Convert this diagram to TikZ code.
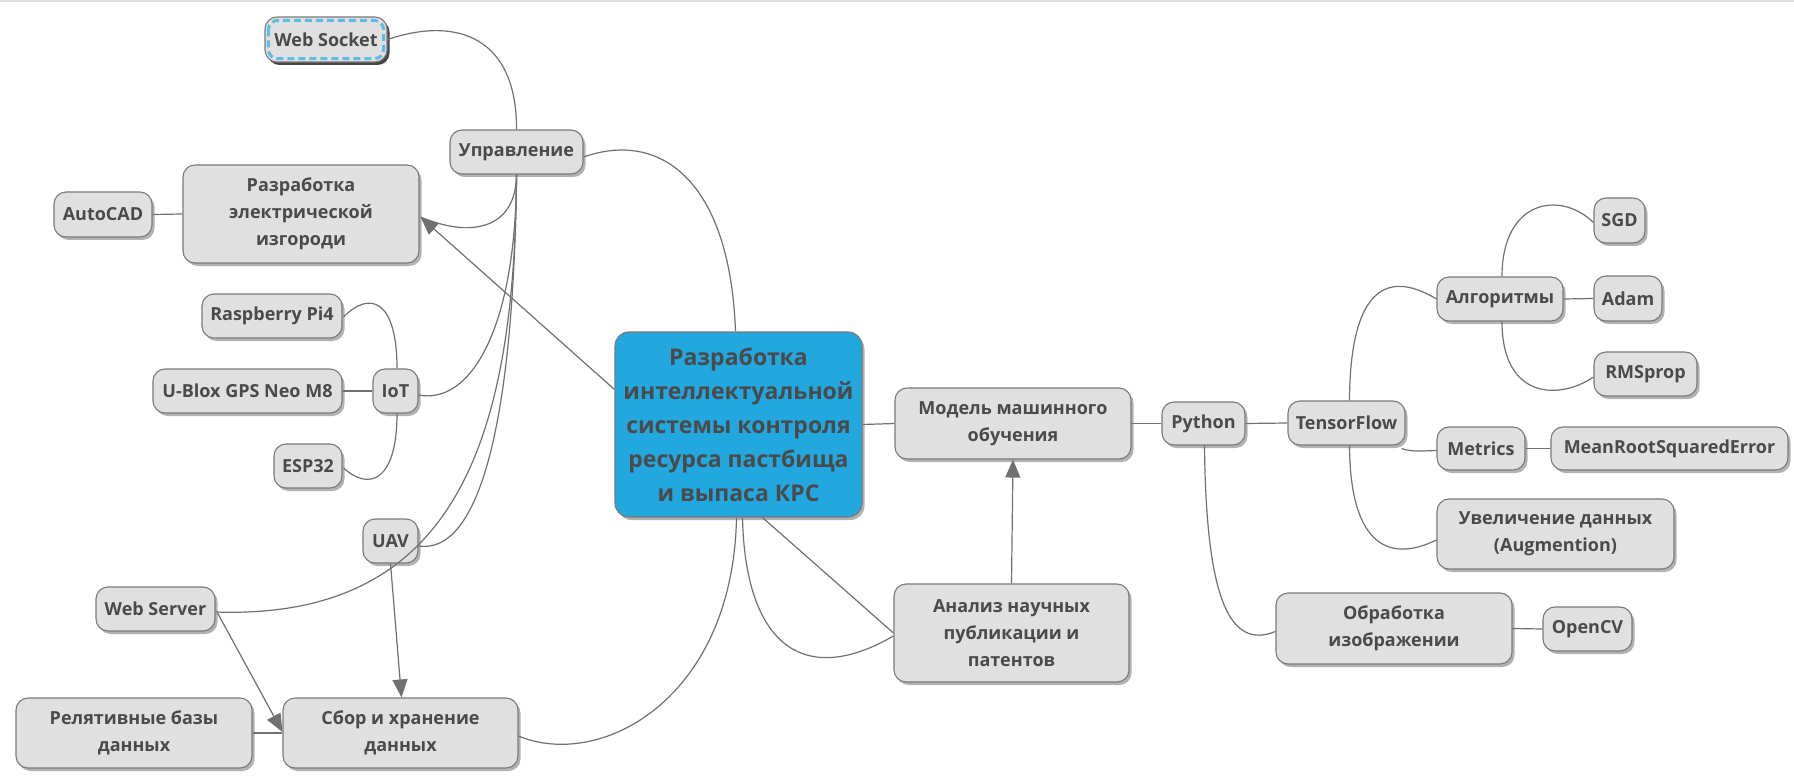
\documentclass[tikz,border=0pt]{standalone}
\usepackage{fontspec}
\setmainfont{Open Sans}
\usetikzlibrary{shadows,calc,arrows.meta}
\definecolor{boxc}{HTML}{E0E0E0}
\definecolor{bordc}{HTML}{7A7A7A}
\definecolor{txtc}{HTML}{4A4A4A}
\definecolor{linec}{HTML}{707070}
\definecolor{cenc}{HTML}{22A7DF}
\definecolor{wsblue}{HTML}{5CBDE6}
\tikzset{
  box/.style={draw=bordc, fill=boxc, rounded corners=12pt, line width=1.1pt, text=txtc,
    font=\bfseries\fontsize{18}{27}\selectfont, align=center, inner sep=0pt,
    drop shadow={shadow xshift=2.5pt, shadow yshift=-3pt, fill=black, opacity=0.3}},
  cenbox/.style={box, fill=cenc, font=\bfseries\fontsize{23}{34}\selectfont, rounded corners=14pt},
  conn/.style={draw=linec, line width=1.2pt},
  arr/.style={conn, -{Triangle[length=18pt,width=15pt]}},
  wsdash/.style={draw=wsblue, line width=3pt, dash pattern=on 7pt off 4pt, rounded corners=9pt},
}
\begin{document}
\begin{tikzpicture}[x=1pt,y=-1pt]
\useasboundingbox (0,0) rectangle (1794,778);
\draw[gray!25, line width=2pt] (0,1) -- (1794,1);
% nodes
\node[box, minimum width=122pt, minimum height=45pt, drop shadow={shadow xshift=2.5pt, shadow yshift=-3pt, fill=black, opacity=0.6}] (ws) at (326,39.5) {Web Socket};
\draw[wsdash] ($(ws.north west)+(4,4)$) rectangle ($(ws.south east)+(-4,-4)$);
\node[box, minimum width=133pt, minimum height=44pt] (upr) at (516.5,152) {Управление};
\node[box, minimum width=236pt, minimum height=98pt] (elk) at (301,214) {Разработка\\электрической\\изгороди};
\node[box, minimum width=98pt, minimum height=45pt] (acad) at (103,214.5) {AutoCAD};
\node[box, minimum width=140pt, minimum height=44pt] (rpi) at (272,316) {Raspberry Pi4};
\node[box, minimum width=189pt, minimum height=44pt] (ublox) at (247.5,391) {U-Blox GPS Neo M8};
\node[box, minimum width=45pt, minimum height=44pt] (iot) at (395.5,391) {IoT};
\node[box, minimum width=68pt, minimum height=44pt] (esp) at (308,466) {ESP32};
\node[box, minimum width=55pt, minimum height=44pt] (uav) at (390.5,541) {UAV};
\node[box, minimum width=119pt, minimum height=44pt] (wsrv) at (155.5,609) {Web Server};
\node[box, minimum width=236pt, minimum height=70pt] (rdb) at (134,733) {Релятивные базы\\данных};
\node[box, minimum width=235pt, minimum height=70pt] (sbor) at (400.5,733) {Сбор и хранение\\данных};
\node[cenbox, minimum width=247pt, minimum height=185pt] (cen) at (738.5,424.5) {Разработка\\интеллектуальной\\системы контроля\\ресурса пастбища\\и выпаса КРС};
\node[box, minimum width=236pt, minimum height=71pt] (mml) at (1013,423.5) {Модель машинного\\обучения};
\node[box, minimum width=235pt, minimum height=98pt] (anl) at (1011.5,633) {Анализ научных\\публикации и\\патентов};
\node[box, minimum width=83pt, minimum height=43pt] (py) at (1203.5,423.5) {Python};
\node[box, minimum width=117pt, minimum height=44pt] (tf) at (1346.5,423) {TensorFlow};
\node[box, minimum width=126pt, minimum height=44pt] (alg) at (1500,299) {Алгоритмы};
\node[box, minimum width=51pt, minimum height=45pt] (sgd) at (1619.5,220.5) {SGD};
\node[box, minimum width=68pt, minimum height=45pt] (adam) at (1628,298.5) {Adam};
\node[box, minimum width=103pt, minimum height=44pt] (rms) at (1645.5,374) {RMSprop};
\node[box, minimum width=88pt, minimum height=43pt] (met) at (1481,448.5) {Metrics};
\node[box, minimum width=237pt, minimum height=43pt] (mrse) at (1669.5,448.5) {MeanRootSquaredError};
\node[box, minimum width=237pt, minimum height=70pt] (aug) at (1555.5,534) {Увеличение данных\\(Augmention)};
\node[box, minimum width=236pt, minimum height=71pt] (obr) at (1394,628.5) {Обработка\\изображении};
\node[box, minimum width=89pt, minimum height=44pt] (ocv) at (1587.5,629) {OpenCV};
% connectors
\path[conn] ($(cen.north)+(-3,0)$) .. controls (730,180) and (660,130) .. ($(upr.east)+(0,5)$);
\path[conn] (upr.north) .. controls (517,40) and (460,15) .. (ws.east);
\path[conn] (upr.south) .. controls (516,230) and (470,238) .. ($(elk.east)+(1,3)$);
\path[arr] ($(cen.north west)+(0,58)$) -- ($(elk.east)+(1,3)$);
\path[conn] (upr.south) .. controls (516,330) and (470,405) .. ($(iot.east)+(0,4)$);
\path[conn] (upr.south) .. controls (514,420) and (480,555) .. ($(uav.east)+(0,5)$);
\path[conn] (upr.south) .. controls (515,450) and (450,620) .. ($(wsrv.east)+(0,3)$);
\path[arr] (uav.south) -- ($(sbor.north)+(1,0)$);
\path[arr] ($(wsrv.east)+(2,4)$) -- ($(sbor.west)+(0,-1)$);
\path[conn] (rdb.east) -- (sbor.west);
\path[conn] ($(cen.south)+(-2,0)$) .. controls (733,700) and (600,770) .. ($(sbor.east)+(0,3)$);
\path[conn] ($(cen.south)+(4,0)$) .. controls (745,640) and (800,690) .. ($(anl.west)+(0,3)$);
\path[conn] ($(cen.south)+(24,0)$) -- (anl.west);
\path[conn] (cen.east) -- (mml.west);
\path[arr] (anl.north) -- (mml.south);
\path[conn] (mml.east) -- (py.west);
\path[conn] (py.east) -- (tf.west);
\path[conn] ($(py.south)+(1,0)$) .. controls (1206,600) and (1230,650) .. ($(obr.west)+(0,3)$);
\path[conn] ($(tf.north)+(3,0)$) .. controls (1350,300) and (1380,265) .. (alg.west);
\path[conn] ($(tf.south east)+(-4,3)$) .. controls (1412,452) and (1420,451) .. ($(met.west)+(0,2)$);
\path[conn] ($(tf.south)+(3,0)$) .. controls (1350,540) and (1385,565) .. ($(aug.west)+(0,6)$);
\path[conn] ($(alg.north)+(2,0)$) .. controls (1502,200) and (1560,190) .. ($(sgd.west)+(0,2)$);
\path[conn] (alg.east) -- (adam.west);
\path[conn] ($(alg.south)+(2,0)$) .. controls (1502,400) and (1560,400) .. ($(rms.west)+(0,3)$);
\path[conn] (met.east) -- (mrse.west);
\path[conn] (obr.east) -- (ocv.west);
\path[conn] (acad.east) -- (elk.west);
\path[conn] (ublox.east) -- (iot.west);
\path[conn] ($(iot.north)+(1.5,0)$) .. controls (397,300) and (370,290) .. ($(rpi.east)+(1,1)$);
\path[conn] ($(iot.south)+(1.5,0)$) .. controls (397,480) and (370,492) .. ($(esp.east)+(1,2)$);
\end{tikzpicture}
\end{document}
